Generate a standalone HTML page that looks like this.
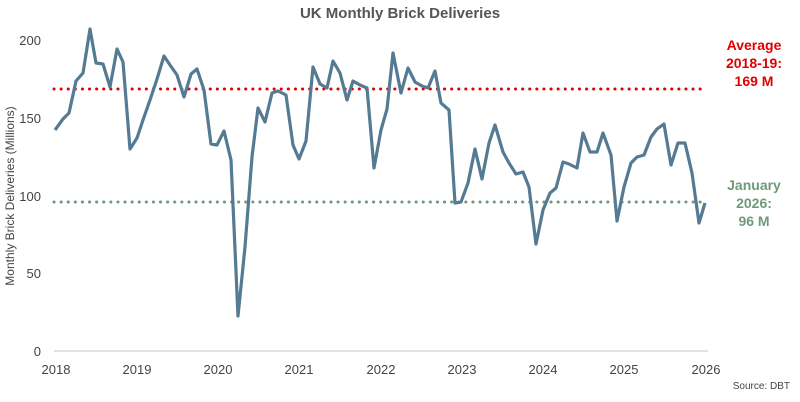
<!DOCTYPE html>
<html><head><meta charset="utf-8"><style>
body{margin:0;background:#fff;}
svg{display:block;font-family:"Liberation Sans",sans-serif;}
</style></head><body>
<svg width="800" height="402" viewBox="0 0 800 402">
<text x="400" y="18" text-anchor="middle" font-size="15" font-weight="bold" fill="#555">UK Monthly Brick Deliveries</text>
<g font-size="13" fill="#444" text-anchor="end">
<text x="41" y="45">200</text><text x="41" y="123">150</text><text x="41" y="201">100</text><text x="41" y="278">50</text><text x="41" y="356">0</text>
</g>
<text transform="translate(14,196) rotate(-90)" text-anchor="middle" font-size="12" fill="#444">Monthly Brick Deliveries (Millions)</text>
<line x1="54" y1="351" x2="708" y2="351" stroke="#d9d9d9" stroke-width="1.5"/>
<g font-size="13" fill="#444" text-anchor="middle">
<text x="56" y="374">2018</text><text x="137" y="374">2019</text><text x="218" y="374">2020</text><text x="299" y="374">2021</text><text x="381" y="374">2022</text><text x="462" y="374">2023</text><text x="543" y="374">2024</text><text x="624" y="374">2025</text><text x="706" y="374">2026</text>
</g>
<text x="790" y="389" text-anchor="end" font-size="10" fill="#444">Source: DBT</text>
<line x1="54" y1="89" x2="706" y2="89" stroke="#e00000" stroke-width="3" stroke-dasharray="0.1 7" stroke-linecap="round"/>
<line x1="54" y1="202" x2="706" y2="202" stroke="#6f9a7a" stroke-width="3" stroke-dasharray="0.1 7" stroke-linecap="round"/>
<polyline fill="none" stroke="#557a94" stroke-width="3.2" stroke-linejoin="round" points="55,130 63,119 69,113 76,81 83,73 90,29 96,63 103,64 110,87 117,49 123,62 130,149 137,138 143,120 150,100 157,79 164,56 170,65 177,75 184,97 191,74 197,69 204,90 211,144 217,145 224,131 231,160 238,316 245,247 252,157 258,108 265,122 272,93 278,91 286,95 293,145 299,159 306,141 313,67 320,84 327,88 333,61 340,73 347,100 353,81 360,85 367,88 374,168 381,130 387,109 393,53 401,93 408,68 415,82 422,86 428,88 435,71 441,103 449,110 455,203 461,202 468,183 475,149 482,179 489,143 495,125 503,152 509,163 516,174 523,172 529,187 536,244 543,210 550,193 556,188 563,162 569,164 577,168 583,133 590,152 597,152 603,133 611,155 617,221 624,187 631,163 637,157 644,155 651,137 657,129 664,124 671,165 678,143 685,143 692,173 699,223 705,203"/>
<g font-size="14" font-weight="bold" text-anchor="middle" fill="#e00000">
<text x="754" y="50">Average</text><text x="754" y="68">2018-19:</text><text x="754" y="86">169 M</text>
</g>
<g font-size="14" font-weight="bold" text-anchor="middle" fill="#6f9a7a">
<text x="754" y="190">January</text><text x="754" y="208">2026:</text><text x="754" y="226">96 M</text>
</g>
</svg>
</body></html>
